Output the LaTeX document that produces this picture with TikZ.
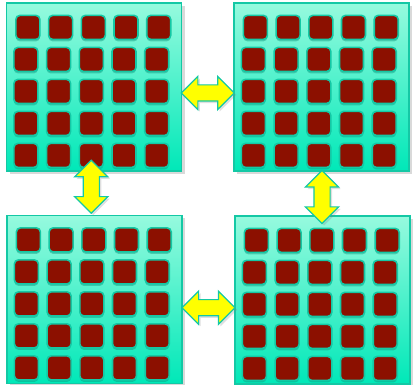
\documentclass[tikz,border=0pt]{standalone}
\usepackage{tikz}
\usetikzlibrary{shapes.arrows, shadows, calc}
\usepackage{xcolor}
\definecolor{mint}{RGB}{150,250,222}
\definecolor{seagreen}{RGB}{0,232,184}
\definecolor{edgeteal}{RGB}{20,200,165}
\definecolor{chipred}{RGB}{140,16,0}
\definecolor{linkyellow}{RGB}{255,255,0}

\tikzset{
  panel/.style={draw=edgeteal, line width=1.2pt, top color=mint, bottom color=seagreen,
    minimum width=175pt, minimum height=168pt, inner sep=0pt,
    drop shadow={shadow xshift=3pt, shadow yshift=-3pt, opacity=0.3}},
  chip/.style={draw=edgeteal, line width=1.6pt, fill=chipred, rounded corners=4pt,
    minimum size=24pt, inner sep=0pt,
    drop shadow={shadow xshift=0pt, shadow yshift=-2pt, fill=edgeteal!70!black, opacity=0.4}},
  link/.style={double arrow, draw=edgeteal, line width=1.2pt, fill=linkyellow,
    double arrow head extend=8.5pt, double arrow tip angle=90, minimum height=53pt,
    inner xsep=0pt, inner ysep=7.5pt, minimum width=0pt,
    drop shadow={shadow xshift=2pt, shadow yshift=-2pt, opacity=0.25}}
}

\begin{document}
\begin{tikzpicture}[x=1pt, y=-1pt]
  \useasboundingbox (0,0) rectangle (413,385);
  % four chips
  \node[panel] (tl) at (94,87) {};
  \node[panel] (tr) at (321.5,87) {};
  \node[panel] (bl) at (94.5,299.5) {};
  \node[panel] (br) at (322.5,300) {};
  % cores (top row sits a bit to the right)
  \foreach \p in {tl,tr,bl,br}
    \foreach \r in {0,...,4}
      \foreach \c in {0,...,4}{
        \pgfmathsetmacro{\dx}{\r==0 ? 2 : 0}
        \node[chip] (\p-\r-\c) at ($(\p.north west)+(20+\dx+32.7*\c,25+32*\r)$) {};
      }
  % links
  \node[link] (top) at ($(tl.east)!0.5!(tr.west)+(0,6)$) {};
  \node[link] (bottom) at ($(bl.east)!0.5!(br.west)+(0,8)$) {};
  \node[link, rotate=90] (left) at ($(tl.south)!0.5!(bl.north)+(-3,-6.5)$) {};
  \node[link, rotate=90] (right) at ($(tr.south)!0.5!(br.north)+(0,3.5)$) {};
\end{tikzpicture}
\end{document}
